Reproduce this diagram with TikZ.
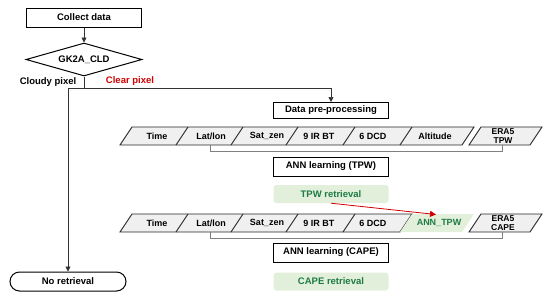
\documentclass[tikz,border=0pt]{standalone}
\usepackage{fontspec}
\setmainfont{Liberation Sans}
\usetikzlibrary{shapes.geometric,shapes.misc,arrows.meta}
\definecolor{lgreen}{HTML}{E2EFDA}
\definecolor{dgreen}{HTML}{1E7B45}
\definecolor{cellgray}{HTML}{F0F0F0}
\definecolor{redc}{HTML}{D00000}
\begin{document}
\begin{tikzpicture}[x=1pt,y=-1pt,
  font=\fontsize{9.5}{10}\selectfont\bfseries,
  box/.style={draw=black,line width=1pt,minimum width=115pt,minimum height=19pt,inner sep=0pt,fill=white},
  gbox/.style={fill=lgreen,rounded corners=3pt,text=dgreen,minimum width=115pt,minimum height=18pt,inner sep=0pt},
  conn/.style={draw=black!80,line width=0.7pt},
  arr/.style={conn,-{Triangle[length=5pt,width=5pt]}},
  redarr/.style={draw=redc,line width=0.8pt,-{Triangle[length=6pt,width=6pt]}},
  cell/.style={fill=cellgray,draw=black!85,line width=0.9pt},
  brk/.style={draw=black!50,line width=0.8pt},
  ctext/.style={font=\fontsize{9}{9}\selectfont\bfseries,inner sep=0pt},
  era/.style={font=\fontsize{8.5}{8.5}\selectfont\bfseries,inner sep=0pt,align=center}
]
\useasboundingbox (0,0) rectangle (550,298);

% top part
\node[box] (collect) at (84,17.5) {Collect data};
\node[diamond,draw=black,line width=1pt,minimum width=116pt,minimum height=33pt,aspect=3.5,inner sep=0pt] (cld) at (84,59.5) {GK2A\_CLD};
\node[inner sep=0pt] (cloudy) at (48,82) {Cloudy pixel};
\node[inner sep=0pt,text=redc] (clear) at (130,81.5) {Clear pixel};

\coordinate (split) at (84,88);
\coordinate (lc) at (68,88);
\coordinate (rc) at (331,88);

\node[box,minimum height=16pt] (prep) at (331,110.5) {Data pre-processing};
\node[rounded rectangle,draw=black,line width=1pt,minimum width=116pt,minimum height=19pt,inner sep=0pt] (noret) at (68,281.5) {No retrieval};

\draw[arr] (collect) -- (cld);
\draw[conn] (cld.south) -- (split);
\draw[conn] (lc) -- (rc);
\draw[arr] (lc) -- (noret.north);
\draw[arr] (rc) -- (prep.north);

% row 1
\draw[cell] (132,127) -- (474,127) -- (462,145) -- (120,145) -- cycle;
\foreach \t in {188,243,298,355,412} \draw[cell] (\t,127) -- (\t-12,145);
\draw[cell] (481,127) -- (542,127) -- (530,145) -- (469,145) -- cycle;
\node[ctext] (t1) at (157,136) {Time};
\node[ctext] (l1) at (211,136) {Lat/lon};
\node[ctext] (s1) at (267,136) {Sat\_zen};
\node[ctext] (i1) at (319,136) {9 IR BT};
\node[ctext] (d1) at (373,136) {6 DCD};
\node[ctext] (a1) at (435,136) {Altitude};
\node[era] (e1) at (503,136) {ERA5\\TPW};
\draw[brk] (210,145) -- (210,151) -- (502,151) -- (502,145);

\node[box] (anntpw) at (331,166.5) {ANN learning (TPW)};
\node[gbox] (tpwret) at (331,194) {TPW retrieval};

% row 2
\draw[cell] (132,214) -- (412,214) -- (400,232) -- (120,232) -- cycle;
\fill[lgreen] (412,214) -- (474,214) -- (462,232) -- (400,232) -- cycle;
\foreach \t in {188,243,298,355} \draw[cell] (\t,214) -- (\t-12,232);
\draw[cell] (481,214) -- (542,214) -- (530,232) -- (469,232) -- cycle;
\node[ctext] (t2) at (157,223) {Time};
\node[ctext] (l2) at (211,223) {Lat/lon};
\node[ctext] (s2) at (267,223) {Sat\_zen};
\node[ctext] (i2) at (319,223) {9 IR BT};
\node[ctext] (d2) at (373,223) {6 DCD};
\node[ctext,text=dgreen] (at2) at (439,223) {ANN\_TPW};
\node[era] (e2) at (503,223) {ERA5\\CAPE};
\draw[brk] (210,232) -- (210,238) -- (502,238) -- (502,232);
\coordinate (anntpwtop) at (436,214.5);

\node[box] (anncape) at (331,252.5) {ANN learning (CAPE)};
\node[gbox] (caperet) at (331,281.5) {CAPE retrieval};

\draw[redarr] (tpwret.south) -- (anntpwtop);
\end{tikzpicture}
\end{document}
